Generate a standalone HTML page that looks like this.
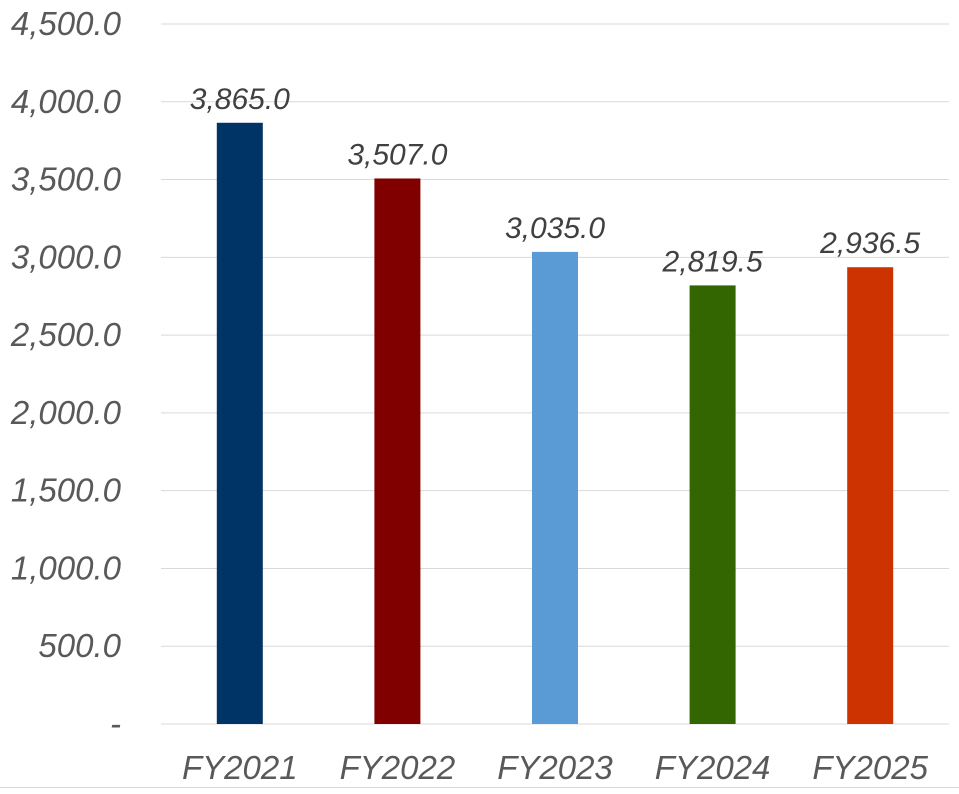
<!DOCTYPE html>
<html><head><meta charset="utf-8"><style>
body{margin:0;background:#fff;width:959px;height:789px;overflow:hidden}
svg{font-family:"Liberation Sans",sans-serif;font-style:italic}
</style></head><body>
<svg id="chart" width="959" height="789" viewBox="0 0 959 789"></svg>
<script>
const categories=["FY2021","FY2022","FY2023","FY2024","FY2025"];
const values=[3865.0,3507.0,3035.0,2819.5,2936.5];
const colors=["#003366","#800000","#5b9bd5","#336600","#cc3300"];
const ticks=[0,500,1000,1500,2000,2500,3000,3500,4000,4500];
const tickLabels=["-","500.0","1,000.0","1,500.0","2,000.0","2,500.0","3,000.0","3,500.0","4,000.0","4,500.0"];
const valueLabels=["3,865.0","3,507.0","3,035.0","2,819.5","2,936.5"];
const svg=document.getElementById('chart');
const NS='http://www.w3.org/2000/svg';
const x0=161,x1=949,y0=724,y1=24,maxV=4500;
const y=v=>y0-(v/maxV)*(y0-y1);
const bw=(x1-x0)/categories.length;
const xc=i=>x0+bw*(i+0.5);
function mk(t,a){const e=document.createElementNS(NS,t);for(const k in a)e.setAttribute(k,a[k]);svg.appendChild(e);return e;}
ticks.forEach((t,i)=>{
  const g=mk('line',{x1:x0,x2:x1,y1:y(t),y2:y(t),stroke:'#d9d9d9','stroke-width':1});
  
  
  const l=mk('text',{x:121,y:y(t)+11,'text-anchor':'end','font-size':33,fill:'#595959'});
  l.textContent=tickLabels[i];
  
  
});
categories.forEach((c,i)=>{
  const b=mk('rect',{x:xc(i)-23,y:y(values[i]),width:46,height:y0-y(values[i]),fill:colors[i]});
  
  
  const v=mk('text',{x:xc(i),y:y(values[i])-14,'text-anchor':'middle','font-size':30,fill:'#404040'});
  v.textContent=valueLabels[i];
  
  
  const l=mk('text',{x:xc(i),y:779,'text-anchor':'middle','font-size':33,fill:'#595959'});
  l.textContent=c;
  
  
});
const bl=mk('line',{x1:0,x2:959,y1:787.5,y2:787.5,stroke:'#d9d9d9','stroke-width':1});


</script>
</body></html>
